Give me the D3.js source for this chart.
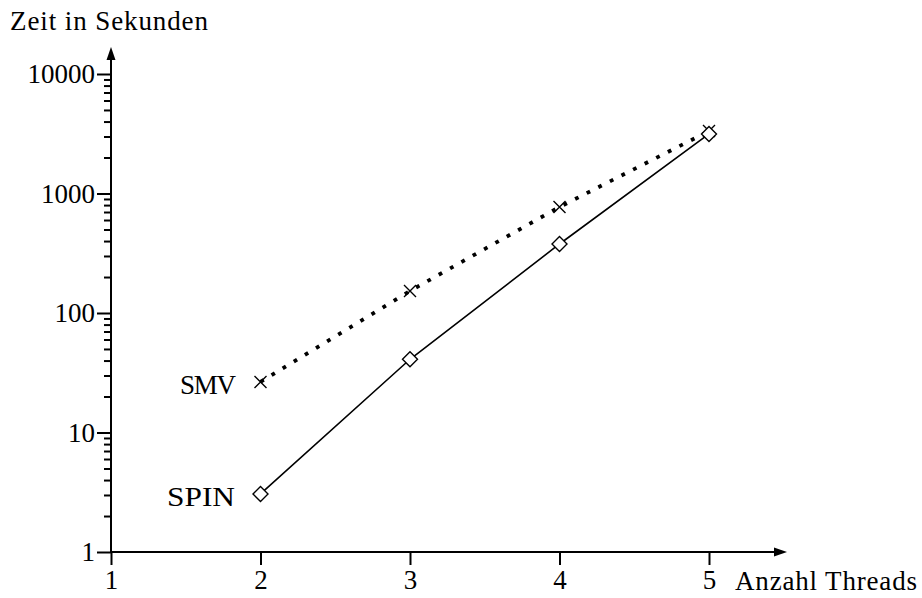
<!DOCTYPE html>
<html>
<head>
<meta charset="utf-8">
<script src="https://cdn.jsdelivr.net/npm/d3@7"></script>
<style>
  body { margin: 0; background: #fff; }
  svg text { font-family: "Liberation Serif", "DejaVu Serif", serif; font-size: 27px; fill: #000; }
</style>
</head>
<body>
<svg id="chart" width="922" height="598"></svg>
<script>
// threads on the x axis, run time (seconds, log scale) on the y axis
const threads = [2, 3, 4, 5];
const smvTimes = [26.5, 153, 771, 3330];
const spinTimes = [3.06, 41, 378, 3150];
const xTicks = [1, 2, 3, 4, 5];
const yTicks = [1, 10, 100, 1000, 10000];

const svg = d3.select('#chart');

const x = d3.scaleLinear().domain([1, 5]).range([111, 709]);
const y = d3.scaleLog().domain([1, 10000]).range([552, 74]);

// minor ticks 2..9 per decade
const minor = [];
for (let e = 0; e < 4; e++) {
  for (let k = 2; k <= 9; k++) minor.push(k * Math.pow(10, e));
}

const yAxisG = svg.append('g').attr('transform', `translate(${x(1)},0)`);
yAxisG.append('g')
  .call(d3.axisLeft(y).tickValues(minor).tickSize(7).tickSizeOuter(0).tickFormat(''))
  .call((g) => g.select('.domain').remove());
yAxisG.append('g')
  .call(d3.axisLeft(y).tickValues(yTicks).tickSize(14).tickSizeOuter(0).tickPadding(2)
    .tickFormat(d3.format('d')))
  .call((g) => g.select('.domain').remove())
  .call((g) => g.selectAll('text').attr('font-size', null).attr('font-family', null));
yAxisG.selectAll('line').attr('stroke', '#000').attr('stroke-width', 2);

const xAxisG = svg.append('g').attr('transform', `translate(0,${y(1)})`);
xAxisG.append('g')
  .call(d3.axisBottom(x).tickValues(xTicks).tickSize(13).tickSizeOuter(0).tickPadding(5)
    .tickFormat(d3.format('d')))
  .call((g) => g.select('.domain').remove())
  .call((g) => g.selectAll('text').attr('font-size', null).attr('font-family', null));
xAxisG.selectAll('line').attr('stroke', '#000').attr('stroke-width', 2);

// axis lines with arrow heads
svg.append('line')
  .attr('x1', x(1)).attr('x2', x(1)).attr('y1', y(1)).attr('y2', 56)
  .attr('stroke', '#000').attr('stroke-width', 2);
svg.append('path')
  .attr('d', `M${x(1)},47 L${x(1) - 4.5},60 L${x(1) + 4.5},60 Z`)
  .attr('fill', '#000');
svg.append('line')
  .attr('x1', x(1)).attr('x2', 778).attr('y1', y(1)).attr('y2', y(1))
  .attr('stroke', '#000').attr('stroke-width', 2);
svg.append('path')
  .attr('d', `M787,${y(1)} L774,${y(1) - 4.5} L774,${y(1) + 4.5} Z`)
  .attr('fill', '#000');

svg.append('text').attr('x', 10).attr('y', 30)
  .attr('textLength', 198).attr('lengthAdjust', 'spacing')
  .text('Zeit in Sekunden');
svg.append('text').attr('x', 735).attr('y', 590)
  .attr('textLength', 182).attr('lengthAdjust', 'spacing')
  .text('Anzahl Threads');

const smv = threads.map((t, i) => [t, smvTimes[i]]);
const spin = threads.map((t, i) => [t, spinTimes[i]]);
const line = d3.line().x((d) => x(d[0])).y((d) => y(d[1]));

svg.append('path')
  .datum(smv)
  .attr('d', line)
  .attr('fill', 'none')
  .attr('stroke', '#000')
  .attr('stroke-width', 3.8)
  .attr('stroke-dasharray', '3.8 9.2');

svg.append('path')
  .datum(spin)
  .attr('d', line)
  .attr('fill', 'none')
  .attr('stroke', '#000')
  .attr('stroke-width', 1.6);

// SMV markers: diagonal crosses
svg.append('g').selectAll('path')
  .data(smv)
  .join('path')
  .attr('d', (d) => {
    const cx = x(d[0]);
    const cy = y(d[1]);
    const r = 6;
    return `M${cx - r},${cy - r}L${cx + r},${cy + r}M${cx - r},${cy + r}L${cx + r},${cy - r}`;
  })
  .attr('stroke', '#000')
  .attr('stroke-width', 1.4);

// SPIN markers: open diamonds
svg.append('g').selectAll('path')
  .data(spin)
  .join('path')
  .attr('d', (d) => {
    const cx = x(d[0]);
    const cy = y(d[1]);
    const r = 7.5;
    return `M${cx},${cy - r}L${cx + r},${cy}L${cx},${cy + r}L${cx - r},${cy}Z`;
  })
  .attr('fill', '#fff')
  .attr('stroke', '#000')
  .attr('stroke-width', 1.4);

svg.append('text')
  .attr('x', 180).attr('y', y(smvTimes[0]) + 12)
  .attr('textLength', 56).attr('lengthAdjust', 'spacing')
  .text('SMV');
svg.append('text')
  .attr('x', 167).attr('y', y(spinTimes[0]) + 12)
  .attr('textLength', 68).attr('lengthAdjust', 'spacingAndGlyphs')
  .text('SPIN');
</script>
</body>
</html>
